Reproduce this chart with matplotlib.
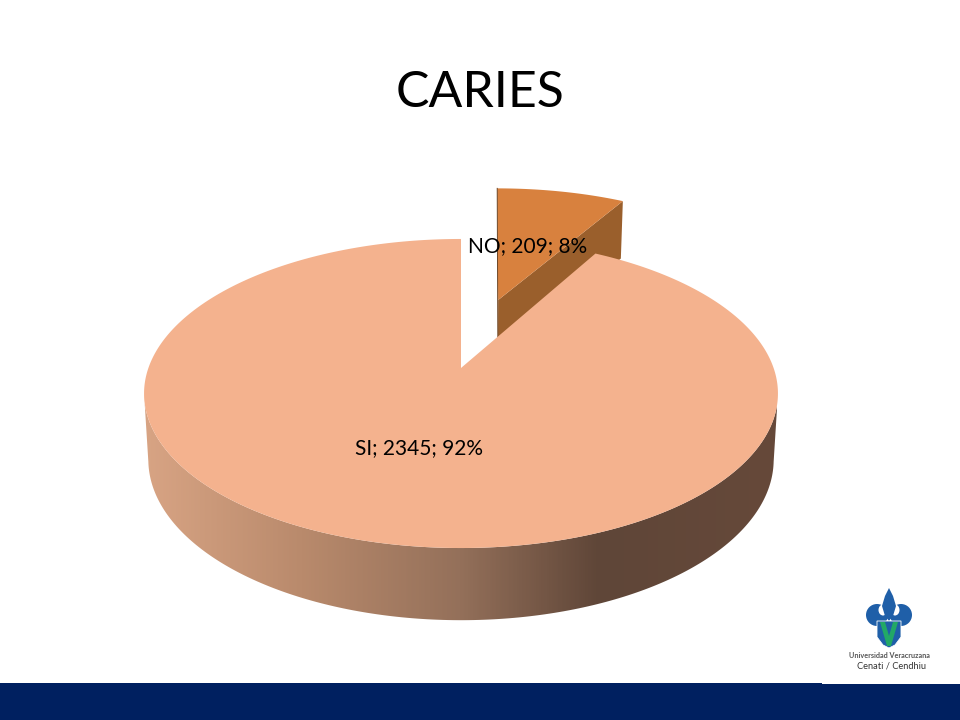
import numpy as np
import matplotlib
matplotlib.use('Agg')
import matplotlib.pyplot as plt
from matplotlib.patches import Polygon, Rectangle, Ellipse
from matplotlib.colors import LinearSegmentedColormap

# Data
categories = ['NO', 'SI']
values = [209, 2345]
percents = [8, 92]

plt.rcParams['font.family'] = ['Lato', 'DejaVu Sans']

fig = plt.figure(figsize=(9.6, 7.2), dpi=100)
ax = fig.add_axes([0, 0, 1, 1])
ax.set_xlim(0, 960)
ax.set_ylim(720, 0)
ax.axis('off')

# perspective of the pie disc, (u, v) on the unit circle -> picture pixels
CX = 461


def top_xy(u, v):
    d = 1 + 0.165 * v
    return CX + 312.6 * u / d, (368 - 89.6 * v) / d


def bot_xy(u, v):
    d = 1 + 0.153 * v
    return CX + 309 * u / d, (435 - 90.3 * v) / d


total = sum(values)
no_angle = 360 * values[0] / total
mid = np.radians(no_angle / 2)
off = (0.505 * np.sin(mid), 0.505 * np.cos(mid))


def no_top_xy(u, v):
    # the exploded slice leans a little less than the model gives
    x, y = top_xy(u, v)
    return x + 4 * (v - off[1]), y


def arc(a0, a1, mapper, off=(0, 0), n=200):
    t = np.radians(np.linspace(a0, a1, n))
    return np.column_stack(mapper(np.sin(t) + off[0], np.cos(t) + off[1]))


# exploded slice: cut wall first, then the top face
apex_top = no_top_xy(*off)
apex_bot = bot_xy(*off)
end = np.radians(no_angle)
end_top = no_top_xy(np.sin(end) + off[0], np.cos(end) + off[1])
end_bot = bot_xy(np.sin(end) + off[0], np.cos(end) + off[1])
ax.add_patch(Polygon([apex_top, end_top, (end_top[0] - 2, end_bot[1]), apex_bot], closed=True,
                     fc='#9a5f2c', ec='none', zorder=2))
no_face = np.vstack([[apex_top], arc(0, no_angle, no_top_xy, off)])
ax.add_patch(Polygon(no_face, closed=True, fc='#d8813e', ec='none', zorder=3))
start_top = no_face[1]
ax.plot([start_top[0], apex_bot[0]], [start_top[1], apex_bot[1]],
        color='#6b4424', lw=0.7, zorder=3)

# main slice: shaded outer wall
wall = np.vstack([arc(99.5, 260.5, top_xy), arc(260.5, 99.5, bot_xy)])
wall_patch = Polygon(wall, closed=True, fc='none', ec='none', zorder=4)
ax.add_patch(wall_patch)
shade = LinearSegmentedColormap.from_list('wall', [
    (0.0, '#d8a484'), (0.25, '#b98a6c'), (0.5, '#94705a'),
    (0.72, '#5f4638'), (1.0, '#66493a')])
img = ax.imshow(np.linspace(0, 1, 400)[None, :], extent=(143, 777, 720, 0),
                cmap=shade, aspect='auto', zorder=4)
img.set_clip_path(wall_patch)
ax.set_xlim(0, 960)
ax.set_ylim(720, 0)

# main slice: top face
si_face = np.vstack([[top_xy(0, 0)], arc(no_angle, 360, top_xy, n=500)])
ax.add_patch(Polygon(si_face, closed=True, fc='#f4b28e', ec='none', zorder=5))

# data labels
label_px = [(528, 246), (419, 448)]
for cat, val, pct, (lx, ly) in zip(categories, values, percents, label_px):
    ax.text(lx, ly, f'{cat}; {val}; {pct}%', fontsize=15, color='black',
            ha='center', va='center', zorder=6)

ax.text(480, 93, 'CARIES', fontsize=36, color='black', ha='center', va='center')

# footer band and logo
ax.add_patch(Rectangle((0, 683), 960, 37, fc='#002060', ec='none', zorder=1))
ax.add_patch(Rectangle((822, 683), 138, 1, fc='white', ec='none', zorder=1))
blue = '#1f5fa8'
# side curls, cut out towards the stem so they read as crescents
ax.add_patch(Ellipse((877, 615), 22, 22, fc=blue, ec='none', zorder=2))
ax.add_patch(Ellipse((901, 615), 22, 22, fc=blue, ec='none', zorder=2))
ax.add_patch(Ellipse((883, 610), 9, 11, fc='white', ec='none', zorder=2))
ax.add_patch(Ellipse((895, 610), 9, 11, fc='white', ec='none', zorder=2))
ax.add_patch(Polygon([(889, 588), (893, 596), (896, 606), (893, 616), (889, 621),
                      (885, 616), (882, 606), (885, 596)], closed=True, fc=blue, ec='none', zorder=3))
ax.add_patch(Polygon([(877, 621), (901, 621), (901, 637), (895, 645), (889, 648),
                      (883, 645), (877, 637)], closed=True, fc=blue, ec='white', lw=0.6, zorder=3))
ax.add_patch(Polygon([(880, 622), (885, 622), (889, 636), (893, 622), (898, 622),
                      (891, 646), (887, 646)], closed=True, fc='#22a866', ec='none', zorder=4))
ax.text(889, 656, 'Universidad Veracruzana', fontsize=5.2, color='#555555',
        ha='center', va='center', fontweight='bold')
ax.text(891.5, 666, 'Cenati / Cendhiu', fontsize=6.7, color='#333333',
        ha='center', va='center')

fig.savefig('out.png', dpi=100)
